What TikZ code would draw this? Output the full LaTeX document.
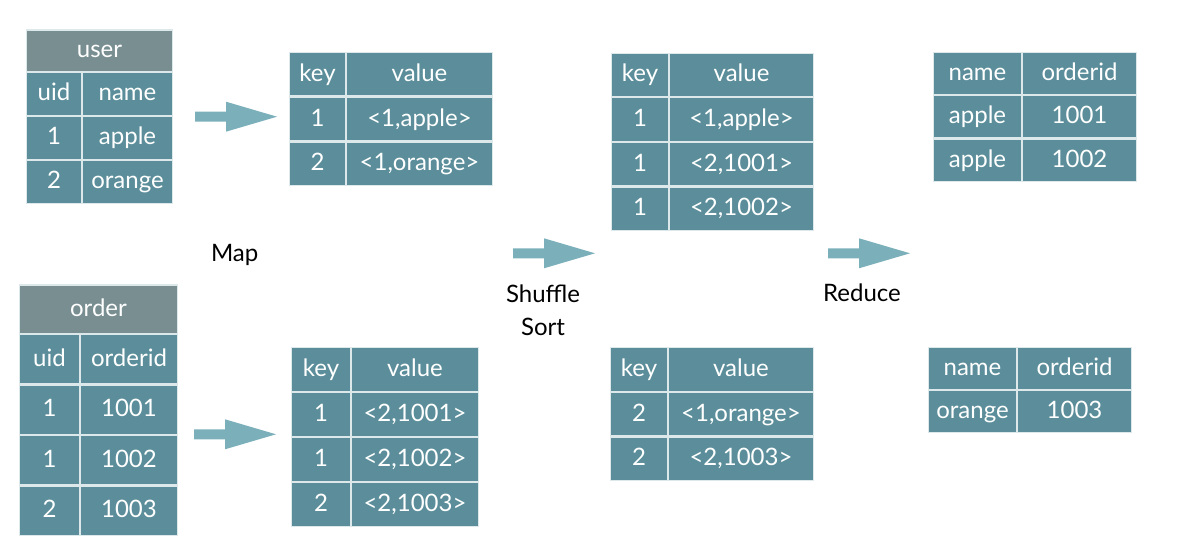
\documentclass[tikz,border=0pt]{standalone}
\usepackage{fontspec}
\setmainfont{Lato}
\usetikzlibrary{matrix,positioning}

\definecolor{cellTeal}{HTML}{5B8E9A}
\definecolor{headGrey}{HTML}{788E91}
\definecolor{arrowTeal}{HTML}{7BB0BB}
\definecolor{cellLine}{HTML}{DCE8EA}

\begin{document}
\begin{tikzpicture}[x=1pt, y=1pt, font={\fontsize{24}{28}\selectfont}]
	\tikzstyle{tableCell} = [draw=cellLine, line width=1.2pt, fill=cellTeal, text=white, rectangle, inner sep=0pt, outer sep=0pt, anchor=center, text height=19pt, text depth=5pt];
	\tikzstyle{tableHead} = [tableCell, fill=headGrey];
	\tikzstyle{tableMatrix} = [matrix of nodes, nodes={tableCell}, row sep=0pt, column sep=0pt, inner sep=0pt, outer sep=0pt, anchor=north west];
	\tikzstyle{stepLabel} = [text=black, align=center, font={\fontsize{24}{33}\selectfont}];
	\tikzstyle{flowArrow} = [fill=arrowTeal];

	\useasboundingbox (0,0) rectangle (1178,557);

	% input tables
	\matrix (user) [tableMatrix, nodes={minimum height=42.8pt}, column 1/.style={nodes={minimum width=54.8pt}}, column 2/.style={nodes={minimum width=89.8pt}}] at (26,485) {
		uid & name \\
		1 & apple \\
		2 & orange \\
	};
	\node[tableHead, minimum width=145.8pt, minimum height=42pt, above=0pt of user] (userHead) {user};

	\matrix (order) [tableMatrix, nodes={minimum height=49.3pt}, column 1/.style={nodes={minimum width=59.8pt}}, column 2/.style={nodes={minimum width=96.8pt}}] at (19,223) {
		uid & orderid \\
		1 & 1001 \\
		1 & 1002 \\
		2 & 1003 \\
	};
	\node[tableHead, minimum width=157.8pt, minimum height=49pt, above=0pt of order] (orderHead) {order};

	% map output
	\matrix (mapA) [tableMatrix, nodes={minimum height=43.5pt}, column 1/.style={nodes={minimum width=55.8pt}}, column 2/.style={nodes={minimum width=145.8pt}}] at (289,505) {
		key & value \\
		1 & <1,apple> \\
		2 & <1,orange> \\
	};
	\matrix (mapB) [tableMatrix, nodes={minimum height=43.8pt}, column 1/.style={nodes={minimum width=58.8pt}}, column 2/.style={nodes={minimum width=126.8pt}}] at (291,210) {
		key & value \\
		1 & <2,1001> \\
		1 & <2,1002> \\
		2 & <2,1003> \\
	};

	% shuffle output
	\matrix (shufA) [tableMatrix, nodes={minimum height=43.4pt}, column 1/.style={nodes={minimum width=56.8pt}}, column 2/.style={nodes={minimum width=143.8pt}}] at (611,504.3) {
		key & value \\
		1 & <1,apple> \\
		1 & <2,1001> \\
		1 & <2,1002> \\
	};
	\matrix (shufB) [tableMatrix, nodes={minimum height=43.6pt}, column 1/.style={nodes={minimum width=56.8pt}}, column 2/.style={nodes={minimum width=144.8pt}}] at (610,210) {
		key & value \\
		2 & <1,orange> \\
		2 & <2,1003> \\
	};

	% reduce output
	\matrix (redA) [tableMatrix, nodes={minimum height=42.1pt}, column 1/.style={nodes={minimum width=87.8pt}}, column 2/.style={nodes={minimum width=113.8pt}}] at (933,505) {
		name & orderid \\
		apple & 1001 \\
		apple & 1002 \\
	};
	\matrix (redB) [tableMatrix, nodes={minimum height=41.8pt}, column 1/.style={nodes={minimum width=87.8pt}}, column 2/.style={nodes={minimum width=113.8pt}}] at (928,210) {
		name & orderid \\
		orange & 1003 \\
	};

	% step labels
	\node[stepLabel] (mapLabel) at (234.7,302) {Map};
	\node[stepLabel] (shufLabel) at (543,247) {Shuffle\\Sort};
	\node[stepLabel] (redLabel) at (862,264) {Reduce};

	% block arrows
	\coordinate (mapArrowA) at (195,440.3);
	\coordinate (mapArrowB) at (194,122.7);
	\coordinate (shufArrow) at (513,303.7);
	\coordinate (redArrow) at (828,303.7);
	\fill[flowArrow] (mapArrowA) ++(0,5) -- ++(31,0) -- ++(0,10) -- ++(51,-15) -- ++(-51,-15) -- ++(0,10) -- ++(-31,0) -- cycle;
	\fill[flowArrow] (mapArrowB) ++(0,5) -- ++(31,0) -- ++(0,10) -- ++(51,-15) -- ++(-51,-15) -- ++(0,10) -- ++(-31,0) -- cycle;
	\fill[flowArrow] (shufArrow) ++(0,5) -- ++(31,0) -- ++(0,10) -- ++(51,-15) -- ++(-51,-15) -- ++(0,10) -- ++(-31,0) -- cycle;
	\fill[flowArrow] (redArrow) ++(0,5) -- ++(31,0) -- ++(0,10) -- ++(51,-15) -- ++(-51,-15) -- ++(0,10) -- ++(-31,0) -- cycle;
\end{tikzpicture}
\end{document}
